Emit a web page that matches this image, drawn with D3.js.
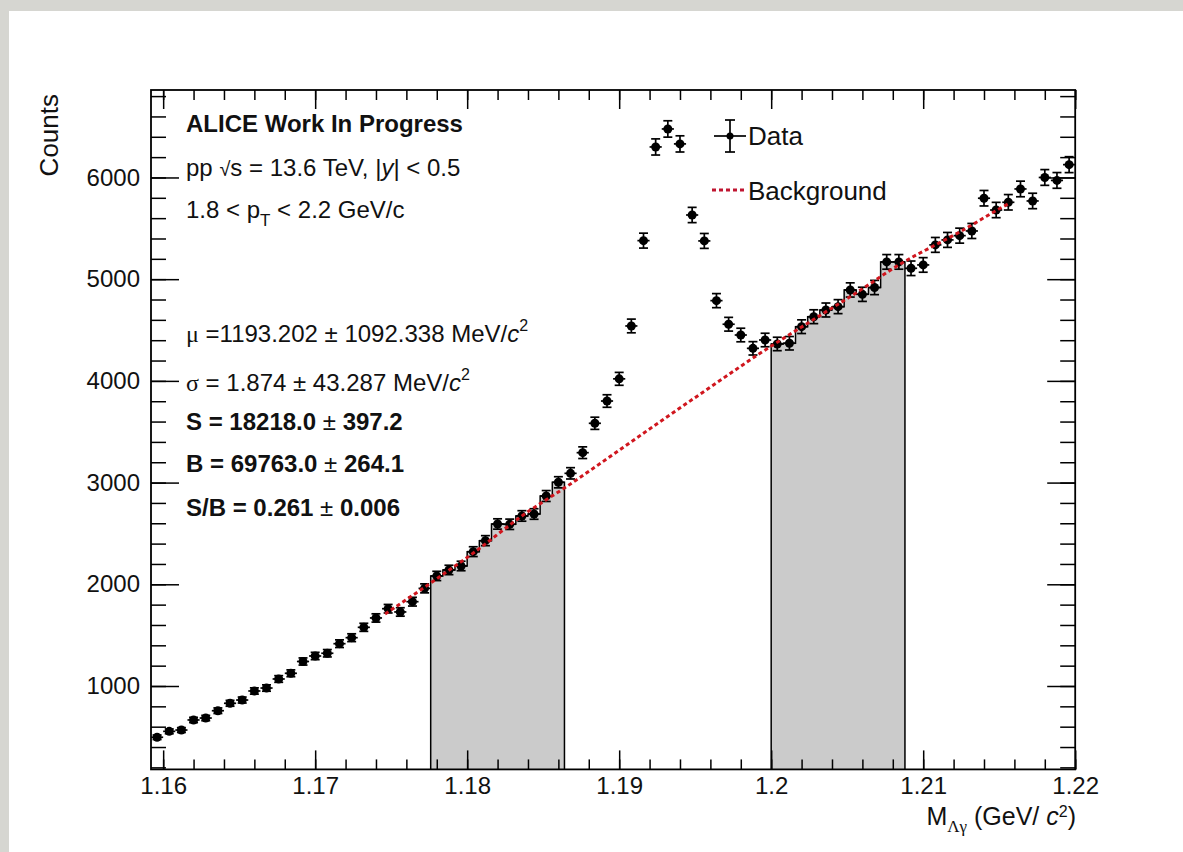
<!DOCTYPE html>
<html>
<head>
<meta charset="utf-8">
<script src="https://cdn.jsdelivr.net/npm/d3@7"></script>
<style>
  body { margin: 0; background: #fff; }
  svg { display: block; }
  text { font-family: "Liberation Sans", Arial, Helvetica, sans-serif; fill: #111; }
</style>
</head>
<body>
<svg id="chart"></svg>
<script>
// histogram: 76 bins of 0.8 MeV starting at 1.1592 GeV
const binLow = 1.1592;
const binWidth = 0.0008;
const counts = [
  496, 554, 567, 666, 685, 757, 830, 862, 951, 980,
  1069, 1125, 1241, 1295, 1322, 1416, 1475, 1577, 1669, 1760,
  1728, 1829, 1960, 2082, 2141, 2180, 2321, 2429, 2593, 2590,
  2672, 2691, 2868, 3003, 3091, 3294, 3583, 3802, 4020, 4540,
  5379, 6300, 6477, 6330, 5631, 5376, 4789, 4557, 4451, 4320,
  4402, 4363, 4370, 4533, 4631, 4697, 4730, 4894, 4851, 4918,
  5170, 5170, 5107, 5140, 5337, 5386, 5428, 5474, 5796, 5680,
  5756, 5887, 5769, 6000, 5971, 6126
];
// sideband regions (shaded)
const sidebands = [[1.1776, 1.1864], [1.2000, 1.2088]];
// background fit
const bgMass = [1.1746, 1.1776, 1.1805, 1.1836, 1.1865, 1.1927, 1.1965, 1.1991,
                1.2020, 1.2059, 1.2085, 1.2111, 1.2124, 1.2151, 1.2157];
const bgCounts = [1708, 2013, 2318, 2672, 2957, 3600, 3990, 4255,
                  4530, 4895, 5150, 5360, 5464, 5700, 5749];
const xTicks = [1.16, 1.17, 1.18, 1.19, 1.2, 1.21, 1.22];
const yTicks = [1000, 2000, 3000, 4000, 5000, 6000];

const W = 1183, H = 852;
const svg = d3.select("#chart").attr("width", W).attr("height", H);

// photo edge bands
svg.append("rect").attr("x", 0).attr("y", 0).attr("width", W).attr("height", 11).attr("fill", "#d6d6d1");
svg.append("rect").attr("x", 0).attr("y", 0).attr("width", 9).attr("height", H).attr("fill", "#d6d6d1");

const pLeft = 151, pRight = 1075.2, pTop = 90, pBottom = 769.4;
const x = d3.scaleLinear().domain([binLow, binLow + binWidth * counts.length]).range([pLeft, pRight]);
const y = d3.scaleLinear().domain([180, 6860]).range([pBottom, pTop]);

const bins = counts.map((c, i) => ({
  lo: binLow + i * binWidth,
  hi: binLow + (i + 1) * binWidth,
  mid: binLow + (i + 0.5) * binWidth,
  c: c,
  e: Math.sqrt(c)
}));

// shaded sidebands (step histogram)
sidebands.forEach(([a, b]) => {
  const sel = bins.filter(d => d.mid > a && d.mid < b);
  const p = d3.path();
  p.moveTo(x(sel[0].lo), pBottom);
  sel.forEach(d => { p.lineTo(x(d.lo), y(d.c)); p.lineTo(x(d.hi), y(d.c)); });
  p.lineTo(x(sel[sel.length - 1].hi), pBottom);
  svg.append("path").attr("d", p.toString())
    .attr("fill", "#cbcbcb").attr("stroke", "#000").attr("stroke-width", 1.5);
});

// axes
const fs = 24;
const gx = svg.append("g").attr("transform", `translate(0,${pBottom})`)
  .call(d3.axisBottom(x).tickValues(xTicks).tickSizeInner(-19).tickSizeOuter(0).tickPadding(8).tickFormat(d3.format("")));
const gxm = svg.append("g").attr("transform", `translate(0,${pBottom})`)
  .call(d3.axisBottom(x).ticks(30).tickSizeInner(-10).tickSizeOuter(0).tickFormat(""));
const gxt = svg.append("g").attr("transform", `translate(0,${pTop})`)
  .call(d3.axisTop(x).tickValues(xTicks).tickSizeInner(-19).tickSizeOuter(0).tickFormat(""));
const gxtm = svg.append("g").attr("transform", `translate(0,${pTop})`)
  .call(d3.axisTop(x).ticks(30).tickSizeInner(-10).tickSizeOuter(0).tickFormat(""));
const gy = svg.append("g").attr("transform", `translate(${pLeft},0)`)
  .call(d3.axisLeft(y).tickValues(yTicks).tickSizeInner(-28).tickSizeOuter(0).tickPadding(11).tickFormat(d3.format("d")));
const gym = svg.append("g").attr("transform", `translate(${pLeft},0)`)
  .call(d3.axisLeft(y).ticks(30).tickSizeInner(-15).tickSizeOuter(0).tickFormat(""));
const gyr = svg.append("g").attr("transform", `translate(${pRight},0)`)
  .call(d3.axisRight(y).tickValues(yTicks).tickSizeInner(-28).tickSizeOuter(0).tickFormat(""));
const gyrm = svg.append("g").attr("transform", `translate(${pRight},0)`)
  .call(d3.axisRight(y).ticks(30).tickSizeInner(-15).tickSizeOuter(0).tickFormat(""));

[gx, gxm, gxt, gxtm, gy, gym, gyr, gyrm].forEach(g => {
  g.select(".domain").remove();
  g.selectAll(".tick line").attr("stroke", "#000").attr("stroke-width", 1.5);
  g.selectAll(".tick text").attr("fill", "#111")
    .style("font-family", '"Liberation Sans", Arial, sans-serif').style("font-size", fs + "px");
});

svg.append("rect").attr("x", pLeft).attr("y", pTop)
  .attr("width", pRight - pLeft).attr("height", pBottom - pTop)
  .attr("fill", "none").attr("stroke", "#000").attr("stroke-width", 1.8);

// data points with error bars
const pts = svg.append("g").attr("stroke", "#000").attr("stroke-width", 1.7);
bins.forEach(d => {
  const cx = x(d.mid), cy = y(d.c);
  pts.append("line").attr("x1", x(d.lo)).attr("x2", x(d.hi)).attr("y1", cy).attr("y2", cy);
  pts.append("line").attr("x1", cx).attr("x2", cx).attr("y1", y(d.c - d.e)).attr("y2", y(d.c + d.e));
  [d.c - d.e, d.c + d.e].forEach(v => {
    pts.append("line").attr("x1", cx - 4.5).attr("x2", cx + 4.5).attr("y1", y(v)).attr("y2", y(v));
  });
});
svg.append("g").selectAll("circle").data(bins).join("circle")
  .attr("cx", d => x(d.mid)).attr("cy", d => y(d.c)).attr("r", 4.5).attr("fill", "#000");

// background fit
const bgLine = d3.line().x((d, i) => x(bgMass[i])).y(d => y(d)).curve(d3.curveMonotoneX);
svg.append("path").attr("d", bgLine(bgCounts))
  .attr("fill", "none").attr("stroke", "#d0161e").attr("stroke-width", 3)
  .attr("stroke-dasharray", "4,3");

// rich text helper
function rich(tx, ty, parts, size) {
  const t = svg.append("text").attr("x", tx).attr("y", ty).style("font-size", size + "px");
  parts.forEach(p => {
    const s = t.append("tspan").text(p.t);
    if (p.b) s.style("font-weight", "bold");
    if (p.i) s.style("font-style", "italic");
    if (p.f) s.style("font-family", p.f);
    if (p.s) s.style("font-size", p.s + "px");
    if (p.dy) s.attr("dy", p.dy);
  });
  return t;
}
const serif = '"Liberation Serif", "Times New Roman", serif';
const ts = 24;

rich(186, 132, [{ t: "ALICE Work In Progress", b: true }], ts);
rich(186, 176, [{ t: "pp  " }, { t: "√", s: 20 }, { t: "s = 13.6 TeV, |" }, { t: "y", i: true }, { t: "| < 0.5" }], ts);
rich(186, 218, [{ t: "1.8 < p" }, { t: "T", s: 17, dy: 8 }, { t: " < 2.2 GeV/c", dy: -8 }], ts);
rich(186, 342, [{ t: "μ", f: serif }, { t: " =1193.202 ± 1092.338 MeV/" }, { t: "c", i: true }, { t: "2", s: 16, dy: -11 }], ts);
rich(186, 391, [{ t: "σ", f: serif }, { t: " = 1.874 ± 43.287 MeV/" }, { t: "c", i: true }, { t: "2", s: 16, dy: -11 }], ts);
rich(186, 430, [{ t: "S = 18218.0 ", b: true }, { t: "± " }, { t: "397.2", b: true }], ts);
rich(186, 472, [{ t: "B = 69763.0 ", b: true }, { t: "± " }, { t: "264.1", b: true }], ts);
rich(186, 516, [{ t: "S/B = 0.261 ", b: true }, { t: "± " }, { t: "0.006", b: true }], ts);

// legend
const lg = svg.append("g").attr("stroke", "#000").attr("stroke-width", 1.7);
lg.append("line").attr("x1", 714).attr("x2", 746).attr("y1", 136).attr("y2", 136);
lg.append("line").attr("x1", 730).attr("x2", 730).attr("y1", 120).attr("y2", 152);
lg.append("line").attr("x1", 725).attr("x2", 735).attr("y1", 120).attr("y2", 120);
lg.append("line").attr("x1", 725).attr("x2", 735).attr("y1", 152).attr("y2", 152);
svg.append("circle").attr("cx", 730).attr("cy", 136).attr("r", 3.5).attr("fill", "#000");
rich(748, 145, [{ t: "Data" }], 26);
svg.append("line").attr("x1", 712).attr("x2", 745).attr("y1", 190).attr("y2", 190)
  .attr("stroke", "#c01530").attr("stroke-width", 3).attr("stroke-dasharray", "4,3");
rich(748, 200, [{ t: "Background" }], 26);

// axis titles
svg.append("text").attr("transform", "translate(58,94) rotate(-90)")
  .attr("text-anchor", "end").style("font-size", "26px").text("Counts");
rich(1076, 825, [{ t: "M" }, { t: "Λγ", f: serif, s: 17, dy: 7 }, { t: " (GeV/ ", dy: -7 }, { t: "c", i: true }, { t: "2", s: 16, dy: -8 }, { t: ")", dy: 8 }], 25)
  .attr("text-anchor", "end");
</script>
</body>
</html>
